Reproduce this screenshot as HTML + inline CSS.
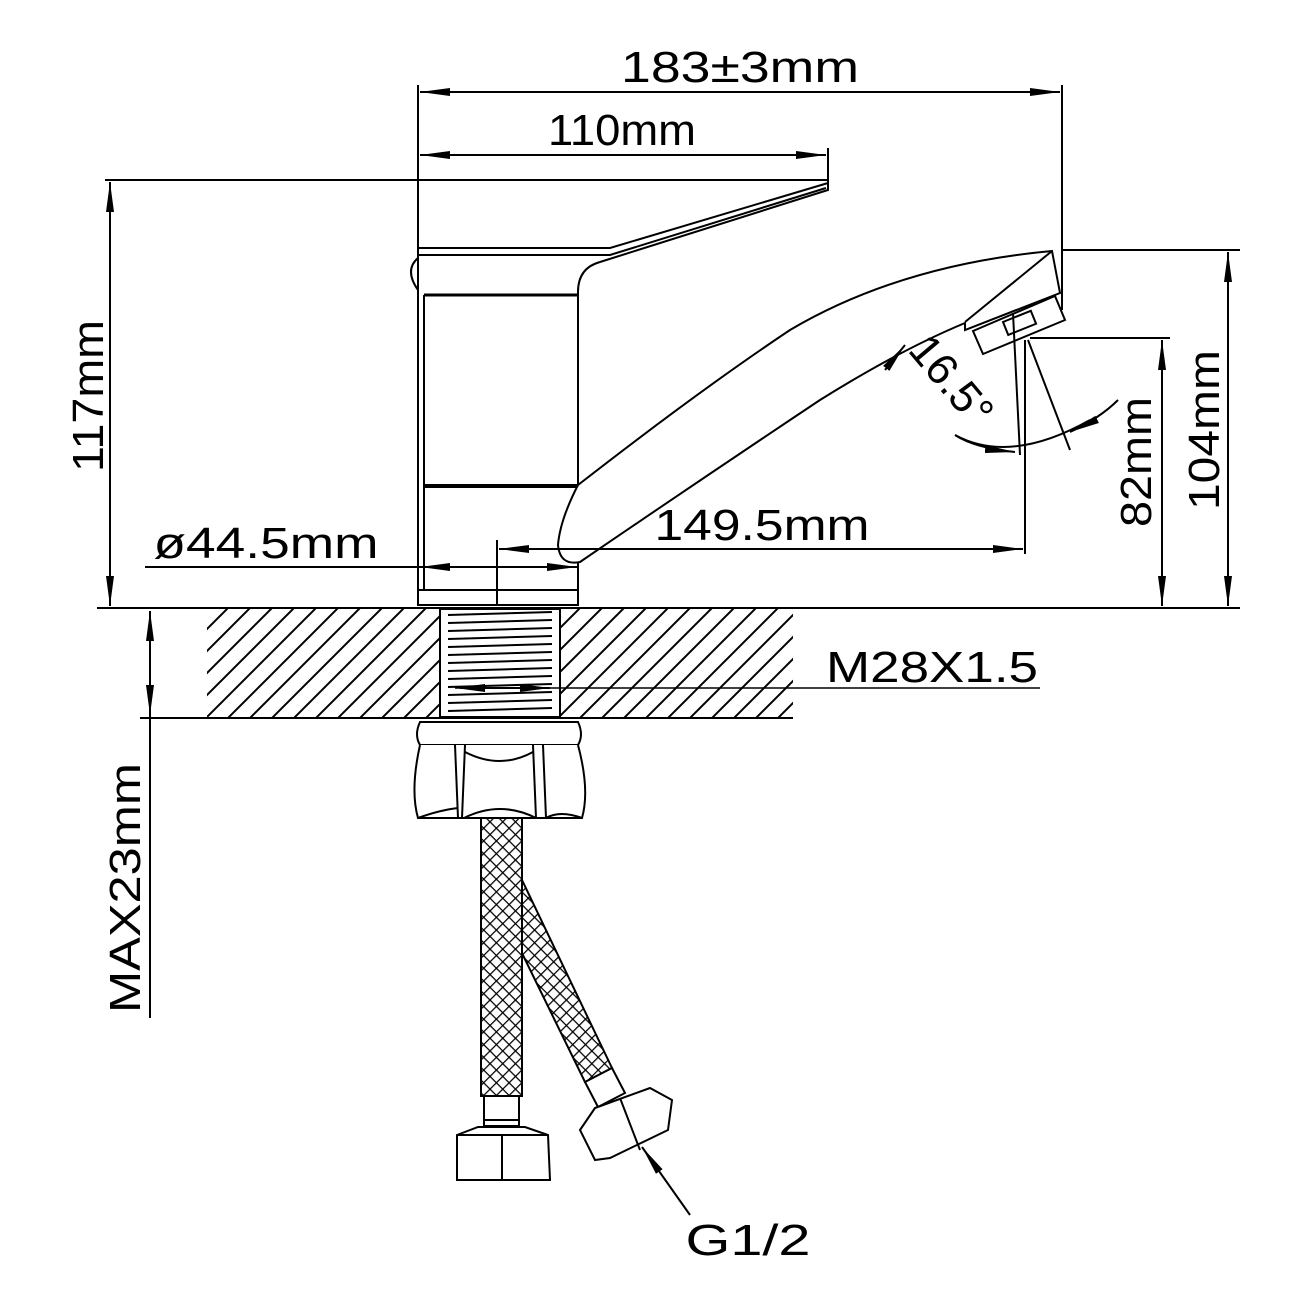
<!DOCTYPE html>
<html><head><meta charset="utf-8"><style>
html,body{margin:0;padding:0;background:#fff}
svg{display:block}
text{font-family:"Liberation Sans",sans-serif;fill:#000;font-weight:normal}
</style></head><body>
<svg width="1300" height="1300" viewBox="0 0 1300 1300" xmlns="http://www.w3.org/2000/svg">
<defs>
<pattern id="hatch" patternUnits="userSpaceOnUse" width="22" height="22">
<path d="M0,22 L22,0 M-3,3 L3,-3 M19,25 L25,19" stroke="#000" stroke-width="2"/>
</pattern>
<pattern id="braid" patternUnits="userSpaceOnUse" width="9" height="9" patternTransform="rotate(45)">
<rect width="9" height="9" fill="#fff"/>
<line x1="0" y1="0" x2="9" y2="0" stroke="#000" stroke-width="2.5"/>
<line x1="0" y1="0" x2="0" y2="9" stroke="#000" stroke-width="2.5"/>
</pattern>
<marker id="ar" markerWidth="30" markerHeight="10" refX="30" refY="5" orient="auto" markerUnits="userSpaceOnUse">
<path d="M0,1 L30,5 L0,9 Z" fill="#000"/>
</marker>
<marker id="as" markerWidth="30" markerHeight="10" refX="0" refY="5" orient="auto" markerUnits="userSpaceOnUse">
<path d="M30,1 L0,5 L30,9 Z" fill="#000"/>
</marker>
</defs>
<g fill="none" stroke="#000" stroke-width="2">
<rect x="207" y="608" width="586" height="110" fill="url(#hatch)" stroke="none"/>
<line x1="97" y1="608" x2="1240" y2="608"/>
<line x1="140" y1="718" x2="793" y2="718"/>
<rect x="440" y="609" width="120" height="108" fill="#fff"/>
<g stroke-width="2">
<line x1="448" y1="615" x2="552" y2="612"/><line x1="448" y1="623" x2="552" y2="620"/>
<line x1="448" y1="631" x2="552" y2="628"/><line x1="448" y1="639" x2="552" y2="636"/>
<line x1="448" y1="647" x2="552" y2="644"/><line x1="448" y1="655" x2="552" y2="652"/>
<line x1="448" y1="663" x2="552" y2="660"/><line x1="448" y1="671" x2="552" y2="668"/>
<line x1="448" y1="679" x2="552" y2="676"/><line x1="448" y1="687" x2="552" y2="684"/>
<line x1="448" y1="695" x2="552" y2="692"/><line x1="448" y1="703" x2="552" y2="700"/>
<line x1="448" y1="711" x2="552" y2="708"/>
</g>
<line x1="455" y1="688" x2="1040" y2="688" stroke-width="1.5" marker-start="url(#as)"/>
<line x1="460" y1="688" x2="550" y2="688" marker-end="url(#ar)"/>

<rect x="418" y="255" width="160" height="350" fill="#fff"/>
<line x1="424" y1="295" x2="424" y2="590"/>
<line x1="424" y1="295" x2="578" y2="295" stroke-width="3"/>
<line x1="424" y1="486" x2="578" y2="486" stroke-width="4"/>
<line x1="418" y1="590" x2="578" y2="590"/>
<path d="M418,258 Q404,270 418,290"/>
<path d="M418,248 L610,248 L828,183 L828,190 L600,262 Q578,268 578,292" fill="#fff"/>
<path d="M418,255 L610,255 L826,188"/>
<line x1="105" y1="180" x2="828" y2="180"/>
<path d="M578,485 Q700,390 790,330 Q900,265 1052,251 L1060,293 L965,330 L965,323 Q900,350 820,400 Q700,480 580,562 Q560,566 558,545 Q560,520 578,485 Z" fill="#fff"/>
<line x1="1052" y1="251" x2="965" y2="322"/>
<path d="M973,331 L1055,296 L1065,320 L983,354 Z" fill="#fff"/>
<rect x="1003" y="322" width="30" height="14" transform="rotate(-22 1003 322)"/>
<line x1="1013" y1="313" x2="1020" y2="455"/>
<line x1="1028" y1="340" x2="1070" y2="450"/>
<path d="M955,435 Q1010,465 1090,420" />
<path d="M955,435 Q975,448 1015,452" marker-end="url(#ar)"/>
<path d="M1118,400 Q1100,418 1070,432" marker-end="url(#ar)"/>
<line x1="885" y1="370" x2="905" y2="345" marker-end="url(#ar)"/>

<line x1="418" y1="85" x2="418" y2="605"/>
<line x1="1062" y1="85" x2="1062" y2="310"/>
<line x1="828" y1="148" x2="828" y2="185"/>
<line x1="420" y1="92" x2="1060" y2="92" marker-start="url(#as)" marker-end="url(#ar)"/>
<line x1="420" y1="155" x2="826" y2="155" marker-start="url(#as)" marker-end="url(#ar)"/>
<line x1="110" y1="182" x2="110" y2="606" marker-start="url(#as)" marker-end="url(#ar)"/>
<line x1="1062" y1="250" x2="1240" y2="250"/>
<line x1="1228" y1="252" x2="1228" y2="606" marker-start="url(#as)" marker-end="url(#ar)"/>
<line x1="1030" y1="338" x2="1170" y2="338"/>
<line x1="1162" y1="340" x2="1162" y2="606" marker-start="url(#as)" marker-end="url(#ar)"/>
<line x1="1025" y1="340" x2="1025" y2="554"/>
<line x1="499" y1="549" x2="1023" y2="549" marker-start="url(#as)" marker-end="url(#ar)"/>
<line x1="497" y1="540" x2="497" y2="605"/>
<line x1="145" y1="567" x2="578" y2="567"/>
<line x1="460" y1="567" x2="420" y2="567" marker-end="url(#ar)"/>
<line x1="530" y1="567" x2="577" y2="567" marker-end="url(#ar)"/>
<line x1="150" y1="615" x2="150" y2="1018"/>
<line x1="150" y1="660" x2="150" y2="611" marker-end="url(#ar)"/>
<line x1="150" y1="670" x2="150" y2="715" marker-end="url(#ar)"/>

<path d="M420,722 L578,722 Q584,735 578,745 L420,745 Q414,735 420,722 Z" fill="#fff"/>
<path d="M420,745 Q410,790 418,818 L582,818 Q590,790 578,745" fill="#fff"/>
<line x1="455" y1="745" x2="458" y2="818"/><line x1="465" y1="745" x2="462" y2="818"/>
<line x1="533" y1="745" x2="536" y2="818"/><line x1="543" y1="745" x2="546" y2="818"/>
<path d="M465,752 Q500,770 533,752"/>
<path d="M418,818 Q440,810 458,808 M464,818 Q500,800 536,818 M546,818 Q560,810 582,818"/>

<path d="M522,880 L612,1068 L585,1082 L518,945 Z" fill="url(#braid)"/>
<rect x="481" y="818" width="41" height="278" fill="url(#braid)"/>
<rect x="484" y="1096" width="35" height="30" fill="#fff"/>
<line x1="484" y1="1120" x2="519" y2="1120"/>
<path d="M457,1135 L478,1127 L525,1127 L548,1135 L550,1180 L457,1180 Z" fill="#fff"/>
<line x1="502" y1="1135" x2="502" y2="1180"/>
<line x1="457" y1="1135" x2="548" y2="1135"/>
<path d="M585,1082 L612,1068 L625,1093 L598,1107 Z" fill="#fff"/>
<path d="M580,1130 L595,1108 L650,1088 L672,1100 L668,1130 L610,1158 L595,1160 Z" fill="#fff"/>
<line x1="620" y1="1098" x2="640" y2="1150"/>
<line x1="690" y1="1215" x2="642" y2="1147" marker-end="url(#ar)"/>
</g>
<g font-size="44">
<text x="740" y="82" text-anchor="middle" textLength="238" lengthAdjust="spacingAndGlyphs">183±3mm</text>
<text x="622" y="145" text-anchor="middle" textLength="148" lengthAdjust="spacingAndGlyphs">110mm</text>
<text x="762" y="540" text-anchor="middle" textLength="215" lengthAdjust="spacingAndGlyphs">149.5mm</text>
<text x="266" y="558" text-anchor="middle" textLength="225" lengthAdjust="spacingAndGlyphs">ø44.5mm</text>
<text x="932" y="682" text-anchor="middle" textLength="212" lengthAdjust="spacingAndGlyphs">M28X1.5</text>
<text x="748" y="1255" text-anchor="middle" textLength="125" lengthAdjust="spacingAndGlyphs">G1/2</text>
<text transform="translate(103,396) rotate(-90)" text-anchor="middle" textLength="152" lengthAdjust="spacingAndGlyphs">117mm</text>
<text transform="translate(1219,430) rotate(-90)" text-anchor="middle" textLength="160" lengthAdjust="spacingAndGlyphs">104mm</text>
<text transform="translate(1151,462) rotate(-90)" text-anchor="middle" textLength="130" lengthAdjust="spacingAndGlyphs">82mm</text>
<text transform="translate(140,888) rotate(-90)" text-anchor="middle" textLength="250" lengthAdjust="spacingAndGlyphs">MAX23mm</text>
<text transform="translate(940,390) rotate(50)" text-anchor="middle">16.5°</text>
</g>
</svg>
</body></html>
